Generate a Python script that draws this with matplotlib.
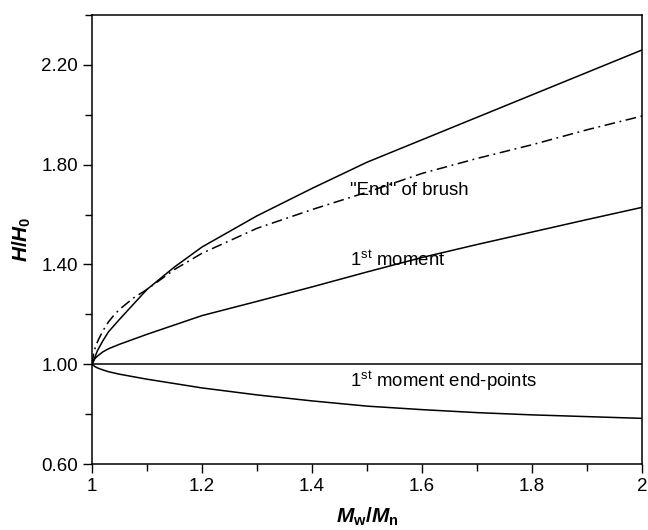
import matplotlib
matplotlib.use("Agg")
import matplotlib.pyplot as plt
from matplotlib.ticker import MultipleLocator, FormatStrFormatter, FuncFormatter

plt.rcParams['font.family'] = ['Liberation Sans', 'DejaVu Sans']
plt.rcParams['mathtext.fontset'] = 'custom'
plt.rcParams['mathtext.it'] = 'Liberation Sans:italic:bold'
plt.rcParams['mathtext.rm'] = 'Liberation Sans:bold'
plt.rcParams['mathtext.bf'] = 'Liberation Sans:bold'

# ---- data ----
x_top = [1.00, 1.01, 1.02, 1.03, 1.05, 1.075, 1.10, 1.15, 1.20, 1.30, 1.40, 1.50, 1.60, 1.70, 1.80, 1.90, 2.00]
y_top = [1.00, 1.055, 1.095, 1.13, 1.18, 1.24, 1.30, 1.39, 1.47, 1.595, 1.705, 1.81, 1.90, 1.99, 2.08, 2.17, 2.26]

x_end = [1.00, 1.003, 1.007, 1.012, 1.02, 1.03, 1.04, 1.05, 1.075, 1.10, 1.15, 1.20, 1.30, 1.40, 1.50, 1.60, 1.70, 1.80, 1.90, 2.00]
y_end = [1.00, 1.045, 1.075, 1.10, 1.135, 1.17, 1.197, 1.22, 1.265, 1.30, 1.38, 1.445, 1.545, 1.62, 1.69, 1.765, 1.825, 1.88, 1.94, 1.995]

x_mom = [1.00, 1.005, 1.01, 1.02, 1.03, 1.05, 1.10, 1.20, 1.30, 1.40, 1.50, 1.60, 1.70, 1.80, 1.90, 2.00]
y_mom = [1.00, 1.022, 1.033, 1.05, 1.062, 1.08, 1.12, 1.195, 1.252, 1.31, 1.37, 1.428, 1.48, 1.53, 1.58, 1.629]

x_ref = [1.0, 2.0]
y_ref = [1.0, 1.0]

x_low = [1.00, 1.005, 1.01, 1.02, 1.03, 1.05, 1.10, 1.20, 1.30, 1.40, 1.50, 1.60, 1.70, 1.80, 1.90, 2.00]
y_low = [1.00, 0.991, 0.985, 0.977, 0.97, 0.96, 0.94, 0.905, 0.877, 0.853, 0.832, 0.818, 0.806, 0.797, 0.79, 0.783]

x_ticks = [1.0, 1.2, 1.4, 1.6, 1.8, 2.0]
y_ticks = [0.60, 1.00, 1.40, 1.80, 2.20]

fig = plt.figure(figsize=(6.48, 5.30), dpi=100)
ax = fig.add_axes([0.142, 0.1245, 0.849, 0.8472])

lw = 1.1
ax.plot(x_top, y_top, color='black', lw=lw)
ax.plot(x_end, y_end, color='black', lw=lw, linestyle=(0, (7, 3, 1.2, 3)))
ax.plot(x_mom, y_mom, color='black', lw=lw)
ax.plot(x_ref, y_ref, color='black', lw=lw)
ax.plot(x_low, y_low, color='black', lw=lw)

fs = 13.4
ax.text(1.469, 1.696, '"End" of brush', fontsize=fs, va='center', ha='left')
ax.text(1.469, 1.416, r'1$^{\mathregular{st}}$ moment', fontsize=fs, va='center', ha='left')
ax.text(1.469, 0.932, r'1$^{\mathregular{st}}$ moment end-points', fontsize=fs, va='center', ha='left')

ax.set_xlim(1.0, 2.0)
ax.set_ylim(0.6, 2.4)
ax.set_xticks(x_ticks)
ax.xaxis.set_minor_locator(MultipleLocator(0.1))
ax.xaxis.set_major_formatter(FuncFormatter(lambda v, p: '%g' % round(v, 3)))
ax.set_yticks(y_ticks)
ax.set_yticks([0.8, 1.2, 1.6, 2.0, 2.4], minor=True)
ax.yaxis.set_major_formatter(FormatStrFormatter('%.2f'))

ax.tick_params(which='major', direction='out', length=6.5, width=1.0, labelsize=13.5, top=False, right=False)
ax.tick_params(which='minor', direction='out', length=5, width=1.0, top=False, right=False)
for s in ax.spines.values():
    s.set_linewidth(1.1)

ax.set_ylabel(r'$H/H_0$', fontsize=15, labelpad=6)
ax.set_xlabel(r'$M_\mathrm{w}/M_\mathrm{n}$', fontsize=15, labelpad=8)

fig.savefig('out.png', dpi=100)
